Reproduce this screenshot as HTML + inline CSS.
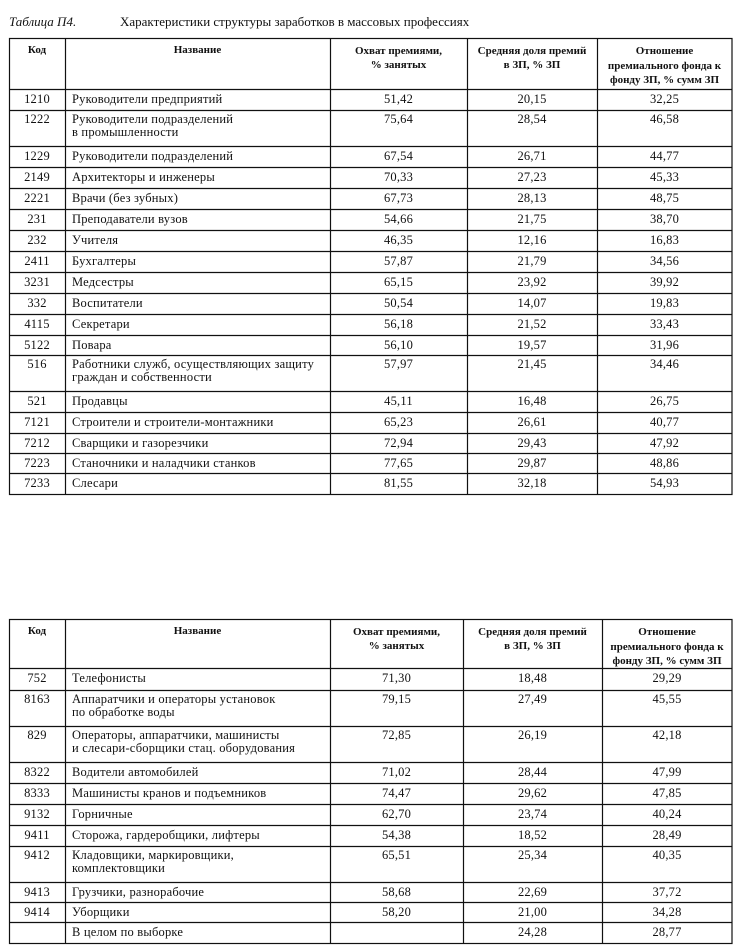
<!DOCTYPE html>
<html><head><meta charset="utf-8"><style>
html,body{margin:0;padding:0;background:#fff;width:744px;height:952px;overflow:hidden}
svg{display:block}
text{font-family:"Liberation Serif","Noto Serif CJK SC",serif;fill:#111}
.b{font-weight:bold;font-size:11px}
.n{font-size:12.5px;letter-spacing:0.2px}
</style></head><body>
<svg id="s" width="744" height="952" xmlns="http://www.w3.org/2000/svg">
<text x="9" y="26" style="font-style:italic;font-size:13px">Таблица П4.</text>
<text x="120" y="26" style="font-size:13px">Характеристики структуры заработков в массовых профессиях</text>
</svg>
<script>
var s=document.getElementById('s'),NS='http://www.w3.org/2000/svg';
function el(t,a,txt){var e=document.createElementNS(NS,t);for(var k in a)e.setAttribute(k,a[k]);if(txt!=null)e.textContent=txt;s.appendChild(e);return e;}
function table(top,hb,cols,rows){
 var xs=[9,65,330,cols[0],cols[1],732];
 var bottom=rows[rows.length-1].b;
 el('rect',{x:9.5,y:top+.5,width:722.5,height:bottom-top,fill:'none',stroke:'#111','stroke-width':1.2});
 for(var i=1;i<5;i++)el('line',{x1:xs[i]+.5,x2:xs[i]+.5,y1:top,y2:bottom,stroke:'#111','stroke-width':1.2});
 el('line',{x1:9,x2:732,y1:hb+.5,y2:hb+.5,stroke:'#111','stroke-width':1.2});
 var c=function(i){return (xs[i]+xs[i+1])/2;};
 el('text',{x:c(0),y:top+15,'text-anchor':'middle','class':'b'},'Код');
 el('text',{x:c(1),y:top+15,'text-anchor':'middle','class':'b'},'Название');
 el('text',{x:c(2),y:top+16,'text-anchor':'middle','class':'b'},'Охват премиями,');
 el('text',{x:c(2),y:top+30,'text-anchor':'middle','class':'b'},'% занятых');
 el('text',{x:c(3),y:top+16,'text-anchor':'middle','class':'b'},'Средняя доля премий');
 el('text',{x:c(3),y:top+30,'text-anchor':'middle','class':'b'},'в ЗП, % ЗП');
 el('text',{x:c(4),y:top+16,'text-anchor':'middle','class':'b'},'Отношение');
 el('text',{x:c(4),y:top+31,'text-anchor':'middle','class':'b'},'премиального фонда к');
 el('text',{x:c(4),y:top+45,'text-anchor':'middle','class':'b'},'фонду ЗП, % сумм ЗП');
 var t=hb;
 rows.forEach(function(r){
  var two=r.n.length>1, y=t+(two?13:14);
  el('text',{x:c(0),y:y,'text-anchor':'middle','class':'n'},r.k);
  el('text',{x:72,y:y,'class':'n'},r.n[0]);
  if(two)el('text',{x:72,y:y+13,'class':'n'},r.n[1]);
  el('text',{x:c(2),y:y,'text-anchor':'middle','class':'n'},r.a);
  el('text',{x:c(3),y:y,'text-anchor':'middle','class':'n'},r.m);
  el('text',{x:c(4),y:y,'text-anchor':'middle','class':'n'},r.o);
  if(r!==rows[rows.length-1])el('line',{x1:9,x2:732,y1:r.b+.5,y2:r.b+.5,stroke:'#111','stroke-width':1.2});
  t=r.b;
 });
}
function R(k,n,a,m,o,b){return {k:k,n:n,a:a,m:m,o:o,b:b};}
table(38,89,[467,597],[
R('1210',['Руководители предприятий'],'51,42','20,15','32,25',110),
R('1222',['Руководители подразделений',' в промышленности'],'75,64','28,54','46,58',146),
R('1229',['Руководители подразделений'],'67,54','26,71','44,77',167),
R('2149',['Архитекторы и инженеры'],'70,33','27,23','45,33',188),
R('2221',['Врачи (без зубных)'],'67,73','28,13','48,75',209),
R('231',['Преподаватели вузов'],'54,66','21,75','38,70',230),
R('232',['Учителя'],'46,35','12,16','16,83',251),
R('2411',['Бухгалтеры'],'57,87','21,79','34,56',272),
R('3231',['Медсестры'],'65,15','23,92','39,92',293),
R('332',['Воспитатели'],'50,54','14,07','19,83',314),
R('4115',['Секретари'],'56,18','21,52','33,43',335),
R('5122',['Повара'],'56,10','19,57','31,96',355),
R('516',['Работники служб, осуществляющих защиту','граждан и собственности'],'57,97','21,45','34,46',391),
R('521',['Продавцы'],'45,11','16,48','26,75',412),
R('7121',['Строители и строители-монтажники'],'65,23','26,61','40,77',433),
R('7212',['Сварщики и газорезчики'],'72,94','29,43','47,92',453),
R('7223',['Станочники и наладчики станков'],'77,65','29,87','48,86',473),
R('7233',['Слесари'],'81,55','32,18','54,93',494)
]);
table(619,668,[463,602],[
R('752',['Телефонисты'],'71,30','18,48','29,29',690),
R('8163',['Аппаратчики и операторы установок','по обработке воды'],'79,15','27,49','45,55',726),
R('829',['Операторы, аппаратчики, машинисты','и слесари-сборщики стац. оборудования'],'72,85','26,19','42,18',762),
R('8322',['Водители автомобилей'],'71,02','28,44','47,99',783),
R('8333',['Машинисты кранов и подъемников'],'74,47','29,62','47,85',804),
R('9132',['Горничные'],'62,70','23,74','40,24',825),
R('9411',['Сторожа, гардеробщики, лифтеры'],'54,38','18,52','28,49',846),
R('9412',['Кладовщики, маркировщики,','комплектовщики'],'65,51','25,34','40,35',882),
R('9413',['Грузчики, разнорабочие'],'58,68','22,69','37,72',902),
R('9414',['Уборщики'],'58,20','21,00','34,28',922),
R('',['В целом по выборке'],'','24,28','28,77',943)
]);
</script>
</body></html>
